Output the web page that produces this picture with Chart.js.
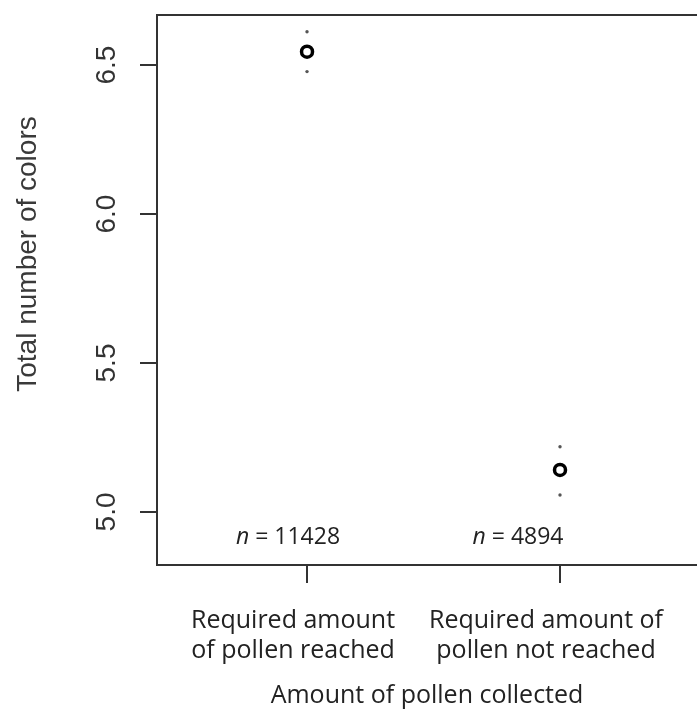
<!DOCTYPE html>
<html>
<head>
<meta charset="utf-8">
<script src="https://cdn.jsdelivr.net/npm/chart.js@4.4.1/dist/chart.umd.min.js"></script>
<style>
    html, body { margin: 0; padding: 0; background: #fff; }
</style>
</head>
<body>
<canvas id="colors-chart" width="697" height="716"></canvas>
<script>
// categories (x positions 1 and 2) and their labels
var groups = [1, 2];
var xLabels = [["Required amount", "of pollen reached"], ["Required amount of", "pollen not reached"]];
// mean number of colours and the ends of the error bars
var means = [6.545, 5.141];
var upper = [6.612, 5.219];
var lower = [6.478, 5.057];
var sampleSizes = ["11428", "4894"];
// y axis ticks
var yTicks = [5.0, 5.5, 6.0, 6.5];
var yTickLabels = ["5.0", "5.5", "6.0", "6.5"];
var yTitle = "Total number of colors";
var xTitle = "Amount of pollen collected";

// small shift of the n labels from the category centre
var nLabelShift = [-19, -42];

function toPoints(values) {
    var pts = [];
    for (var i = 0; i < groups.length; i++) {
        pts.push({ x: groups[i], y: values[i] });
    }
    return pts;
}

// draws the R-style bits: box top, rotated y ticks, y title, n labels
var rStylePlugin = {
    id: 'rStyle',
    afterDraw: function (chart) {
        var ctx = chart.ctx;
        var area = chart.chartArea;
        var xs = chart.scales.x;
        var ys = chart.scales.y;

        ctx.save();
        ctx.strokeStyle = '#333';
        ctx.lineWidth = 2;
        ctx.beginPath();
        ctx.moveTo(area.left, area.top);
        ctx.lineTo(chart.width, area.top);
        ctx.stroke();

        // rotated y tick labels
        ctx.fillStyle = '#333';
        ctx.font = '28px "Liberation Sans", Arial, sans-serif';
        ctx.textAlign = 'center';
        ctx.textBaseline = 'alphabetic';
        for (var i = 0; i < yTicks.length; i++) {
            var py = ys.getPixelForValue(yTicks[i]);
            ctx.save();
            ctx.translate(115, py);
            ctx.rotate(-Math.PI / 2);
            ctx.fillText(yTickLabels[i], 0, 0);
            ctx.restore();
        }

        // y axis title
        ctx.fillStyle = '#3a3a3a';
        ctx.save();
        ctx.translate(36, 254);
        ctx.rotate(-Math.PI / 2);
        ctx.fillText(yTitle, 0, 0);
        ctx.restore();

        // n = ... labels inside the plot
        ctx.fillStyle = '#222';
        ctx.textAlign = 'left';
        for (var j = 0; j < groups.length; j++) {
            var cx = xs.getPixelForValue(groups[j]) + nLabelShift[j];
            var italic = 'italic 23px "Open Sans", sans-serif';
            var normal = '23px "Open Sans", sans-serif';
            ctx.font = italic;
            var w1 = ctx.measureText('n').width;
            ctx.font = normal;
            var rest = ' = ' + sampleSizes[j];
            var w2 = ctx.measureText(rest).width;
            var x0 = cx - (w1 + w2) / 2;
            ctx.font = italic;
            ctx.fillText('n', x0, 544);
            ctx.font = normal;
            ctx.fillText(rest, x0 + w1, 544);
        }
        ctx.restore();
    }
};

var ctx = document.getElementById('colors-chart').getContext('2d');
var myChart = new Chart(ctx, {
    type: 'scatter',
    data: {
        datasets: [
            {
                label: 'Mean',
                data: toPoints(means),
                pointRadius: 5.5,
                pointBorderWidth: 3.5,
                borderColor: '#000',
                backgroundColor: '#fff',
                order: 1
            }, {
                label: 'Upper',
                data: toPoints(upper),
                pointRadius: 1.7,
                pointBorderWidth: 0,
                backgroundColor: '#555',
                borderColor: '#555',
                order: 2
            }, {
                label: 'Lower',
                data: toPoints(lower),
                pointRadius: 1.7,
                pointBorderWidth: 0,
                backgroundColor: '#555',
                borderColor: '#555',
                order: 2
            }
        ]
    },
    options: {
        responsive: false,
        animation: false,
        devicePixelRatio: 1,
        layout: { autoPadding: false, padding: { top: 15, right: 0, left: 0, bottom: 0 } },
        plugins: {
            legend: { display: false },
            tooltip: { enabled: false }
        },
        scales: {
            x: {
                type: 'linear',
                min: 0.407,
                max: 2.5415,
                afterBuildTicks: function (scale) {
                    scale.ticks = groups.map(function (g) { return { value: g }; });
                },
                afterFit: function (scale) {
                    scale.height = 151;
                    scale.paddingLeft = 0;
                    scale.paddingRight = 0;
                },
                grid: {
                    drawOnChartArea: false,
                    drawTicks: true,
                    tickLength: 18,
                    color: '#333',
                    lineWidth: 2
                },
                border: { display: true, color: '#333', width: 2 },
                ticks: {
                    padding: 23,
                    labelOffset: -14,
                    maxRotation: 0,
                    autoSkip: false,
                    color: '#222',
                    font: { family: '"Open Sans", sans-serif', size: 25, lineHeight: 1.2 },
                    callback: function (value, index) { return xLabels[index]; }
                },
                title: {
                    display: true,
                    text: xTitle,
                    color: '#222',
                    font: { family: '"Open Sans", sans-serif', size: 25, lineHeight: 1.2 },
                    padding: { top: 0, bottom: 5 }
                }
            },
            y: {
                min: 4.822,
                max: 6.668,
                afterBuildTicks: function (scale) {
                    scale.ticks = yTicks.map(function (v) { return { value: v }; });
                },
                afterFit: function (scale) { scale.width = 157; },
                grid: {
                    drawOnChartArea: false,
                    drawTicks: true,
                    tickLength: 17,
                    color: '#333',
                    lineWidth: 2
                },
                border: { display: true, color: '#333', width: 2 },
                ticks: { display: false }
            }
        }
    },
    plugins: [rStylePlugin]
});
</script>
</body>
</html>
